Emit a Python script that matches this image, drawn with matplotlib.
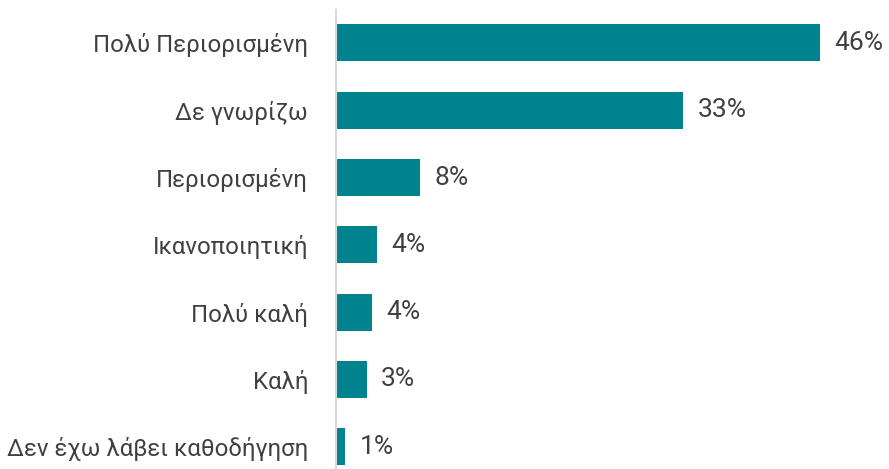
import matplotlib
import matplotlib.pyplot as plt

matplotlib.use('Agg')

categories = ['Πολύ Περιορισμένη', 'Δε γνωρίζω', 'Περιορισμένη', 'Ικανοποιητική',
              'Πολύ καλή', 'Καλή', 'Δεν έχω λάβει καθοδήγηση']
values = [46.0, 33.0, 8.0, 3.9, 3.4, 2.9, 0.9]
labels = ['46%', '33%', '8%', '4%', '4%', '3%', '1%']

plt.rcParams['font.family'] = ['Roboto', 'DejaVu Sans']

fig = plt.figure(figsize=(8.89, 4.69), dpi=100)
ax = fig.add_axes([336 / 889, 0, 544 / 889, 459 / 469])

y = range(len(categories))
ax.barh(y, values, height=0.55, color='#00838F')
for yi, v, lab in zip(y, values, labels):
    ax.text(v + 1.4, yi, lab, va='center', ha='left', fontsize=19, color='#404040')

ax.set_xlim(0, 51.7)
ax.set_ylim(6.33, -0.49)
ax.set_yticks(list(y))
ax.set_yticklabels(categories, fontsize=17.3, color='#404040')
ax.tick_params(axis='y', length=0, pad=20)
ax.set_xticks([])
for s in ['top', 'right', 'bottom']:
    ax.spines[s].set_visible(False)
ax.spines['left'].set_color('#d9d9d9')
ax.spines['left'].set_linewidth(1.5)

fig.savefig('out.png', dpi=100)
